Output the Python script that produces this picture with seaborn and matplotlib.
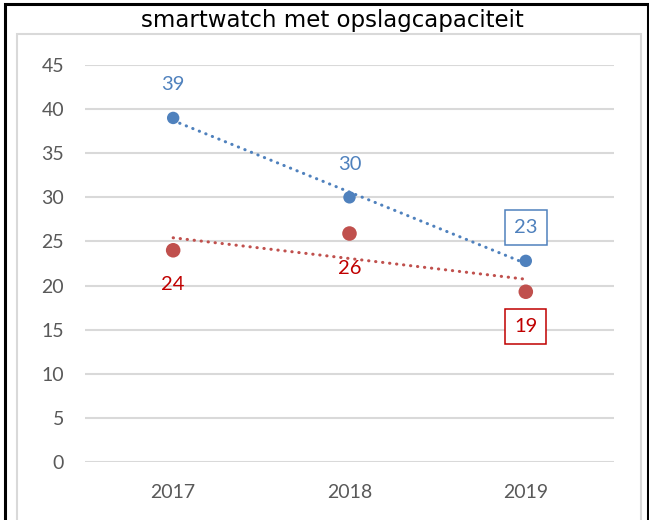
import numpy as np
import pandas as pd
import seaborn as sns
from matplotlib import pyplot as plt
from matplotlib.patches import Rectangle

years = ['2017', '2018', '2019']
blue_vals = [39.0, 30.0, 22.8]
red_vals = [24.0, 25.9, 19.3]
blue_labels = ['39', '30', '23']
red_labels = ['24', '26', '19']
title = 'smartwatch met opslagcapaciteit'
yticks = [0, 5, 10, 15, 20, 25, 30, 35, 40, 45]

blue = '#4F81BD'
red = '#C0504D'
red_text = '#C00000'

sns.set_style('white')
plt.rcParams['font.family'] = ['Lato', 'DejaVu Sans']

fig = plt.figure(figsize=(6.49, 5.20), dpi=100)
ax = fig.add_axes([0.131, 0.1115, 0.815, 0.7635])

x = np.arange(len(years))
df = pd.DataFrame({
    'x': np.concatenate([x, x]),
    'value': blue_vals + red_vals,
    'series': ['blue'] * 3 + ['red'] * 3,
})

# dotted linear trend lines
for vals, col in [(blue_vals, blue), (red_vals, red)]:
    sns.regplot(
        x=x, y=np.array(vals), ax=ax, scatter=False, ci=None, truncate=True,
        line_kws=dict(color=col, lw=2.2, ls=(0, (0.1, 2.2)),
                      dash_capstyle='round', zorder=2)
    )

sns.scatterplot(data=df[df.series == 'blue'], x='x', y='value', ax=ax,
                color=blue, s=80, edgecolor='none', zorder=3, legend=False)
sns.scatterplot(data=df[df.series == 'red'], x='x', y='value', ax=ax,
                color=red, s=110, edgecolor='none', zorder=3, legend=False)

for i, (v, lab) in enumerate(zip(blue_vals, blue_labels)):
    kw = {}
    if i == 2:
        kw['bbox'] = dict(boxstyle='square,pad=0.45', fc='white', ec=blue, lw=1.1)
    ax.annotate(lab, (i, v), xytext=(0, 24), textcoords='offset points',
                ha='center', va='center', fontsize=14.5, color=blue, **kw)
for i, (v, lab) in enumerate(zip(red_vals, red_labels)):
    kw = {}
    if i == 2:
        kw['bbox'] = dict(boxstyle='square,pad=0.45', fc='white', ec=red_text, lw=1.1)
    ax.annotate(lab, (i, v), xytext=(0, -25), textcoords='offset points',
                ha='center', va='center', fontsize=14.5, color=red_text, **kw)

ax.set_xlim(-0.5, 2.5)
ax.set_ylim(0, 45)
ax.set_xticks(x)
ax.set_xticklabels(years)
ax.set_yticks(yticks)
ax.set_xlabel('')
ax.set_ylabel('')
ax.yaxis.grid(True, color='#D9D9D9', lw=1.5)
ax.set_axisbelow(True)
sns.despine(ax=ax, left=True, bottom=True)
ax.tick_params(axis='y', length=0, pad=15, labelsize=14, labelcolor='#595959')
ax.tick_params(axis='x', length=0, pad=16, labelsize=14, labelcolor='#595959')

fig.text(0.512, 0.961, title, ha='center', va='center', fontsize=16.5,
         family='DejaVu Sans', color='black')

# chart frames
fig.patches.append(Rectangle((17 / 649, -0.1), 624 / 649, 1.1 - 34 / 520,
                             transform=fig.transFigure, fill=False,
                             ec='#D9D9D9', lw=1.5))
fig.patches.append(Rectangle((5 / 649, -0.1), 643 / 649, 1.1 - 4 / 520,
                             transform=fig.transFigure, fill=False,
                             ec='black', lw=2.2))

fig.savefig('out.png', dpi=100)
